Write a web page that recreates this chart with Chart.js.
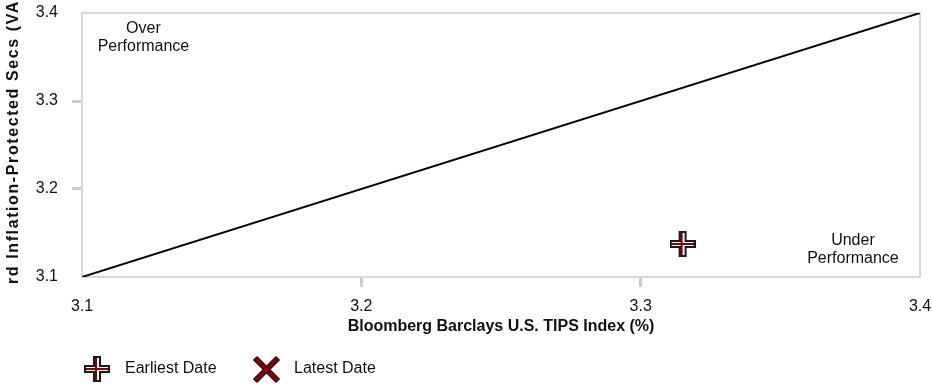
<!DOCTYPE html>
<html>
<head>
<meta charset="utf-8">
<script src="https://cdn.jsdelivr.net/npm/chart.js@4/dist/chart.umd.min.js"></script>
<style>
  html, body { margin: 0; padding: 0; background: #fff; }
  #wrap { width: 932px; height: 387px; position: relative; }
</style>
</head>
<body>
<div id="wrap"><canvas id="chart"></canvas></div>
<script>
// axis ticks (%)
const xTicks = [3.1, 3.2, 3.3, 3.4];
const yTicks = [3.1, 3.2, 3.3, 3.4];

// 45-degree reference line
const refLineX = [3.1, 3.4];
const refLineY = [3.1, 3.4];

// fund vs index return points
const earliestX = [3.315];
const earliestY = [3.1375];
const latestX = [];
const latestY = [];

const xTitle = 'Bloomberg Barclays U.S. TIPS Index (%)';
const yTitle = 'rd Inflation-Protected Secs (VA';

const legendLabels = ['Earliest Date', 'Latest Date'];

// quadrant labels, anchored in data units
const quadLabels = [
  { lines: ['Over', 'Performance'], x: 3.122, y: 3.382 },
  { lines: ['Under', 'Performance'], x: 3.376, y: 3.141 },
];

const FONT = 'Liberation Sans, Arial, Helvetica, sans-serif';
const TEXT = '#111';
const RED = '#8b0000';

const toPts = (xs, ys) => xs.map((x, i) => ({ x, y: ys[i] }));

function makePlus(size) {
  const c = document.createElement('canvas');
  c.width = size; c.height = size;
  const g = c.getContext('2d');
  const m = size / 2, h = 3;
  g.beginPath();
  g.moveTo(m - h, 1); g.lineTo(m + h, 1); g.lineTo(m + h, m - h);
  g.lineTo(size - 1, m - h); g.lineTo(size - 1, m + h); g.lineTo(m + h, m + h);
  g.lineTo(m + h, size - 1); g.lineTo(m - h, size - 1); g.lineTo(m - h, m + h);
  g.lineTo(1, m + h); g.lineTo(1, m - h); g.lineTo(m - h, m - h);
  g.closePath();
  g.fillStyle = '#fff';
  g.fill();
  g.lineWidth = 2;
  g.strokeStyle = '#1a1a1a';
  g.stroke();
  g.strokeStyle = RED;
  g.lineWidth = 2;
  g.beginPath();
  g.moveTo(m - 1, 2); g.lineTo(m - 1, size - 2);
  g.moveTo(2, m); g.lineTo(size - 2, m);
  g.stroke();
  return c;
}

function makeX(size) {
  const c = document.createElement('canvas');
  c.width = size; c.height = size;
  const g = c.getContext('2d');
  const p = 3;
  const path = () => {
    g.beginPath();
    g.moveTo(p, p); g.lineTo(size - p, size - p);
    g.moveTo(size - p, p); g.lineTo(p, size - p);
  };
  g.lineCap = 'butt';
  path(); g.strokeStyle = '#111'; g.lineWidth = 6; g.stroke();
  path(); g.strokeStyle = RED; g.lineWidth = 3.5; g.stroke();
  return c;
}

const plusIcon = makePlus(26);
const xIcon = makeX(29);

// light grey frame around the plot area
const framePlugin = {
  id: 'frame',
  beforeDatasetsDraw(chart) {
    const { ctx, chartArea: a } = chart;
    ctx.save();
    ctx.strokeStyle = '#d9d9d9';
    ctx.lineWidth = 2;
    ctx.strokeRect(a.left, a.top, a.right - a.left, a.bottom - a.top);
    ctx.restore();
  },
};

// y title, letter-spaced like the original
const yTitlePlugin = {
  id: 'yTitle',
  afterDraw(chart) {
    const { ctx, chartArea: a } = chart;
    ctx.save();
    ctx.translate(14, (a.top + a.bottom) / 2 - 3);
    ctx.rotate(-Math.PI / 2);
    ctx.font = 'bold 16px ' + FONT;
    ctx.letterSpacing = '1.6px';
    ctx.fillStyle = TEXT;
    ctx.textAlign = 'center';
    ctx.textBaseline = 'middle';
    ctx.fillText(yTitle, 0, 0);
    ctx.restore();
  },
};

// quadrant annotations
const quadPlugin = {
  id: 'quad',
  afterDatasetsDraw(chart) {
    const { ctx, scales: { x, y } } = chart;
    ctx.save();
    ctx.font = '16px ' + FONT;
    ctx.fillStyle = TEXT;
    ctx.textAlign = 'center';
    ctx.textBaseline = 'middle';
    quadLabels.forEach(q => {
      const px = x.getPixelForValue(q.x);
      const py = y.getPixelForValue(q.y);
      q.lines.forEach((t, i) => ctx.fillText(t, px, py + i * 18));
    });
    ctx.restore();
  },
};

// legend below the axis title
const legendPlugin = {
  id: 'bottomLegend',
  afterDraw(chart) {
    const { ctx } = chart;
    const icons = [plusIcon, xIcon];
    const iconX = [97, 266.5];
    const textX = [125, 294];
    const cy = 369;
    ctx.save();
    ctx.font = '16px ' + FONT;
    ctx.fillStyle = TEXT;
    ctx.textBaseline = 'middle';
    legendLabels.forEach((t, i) => {
      const ic = icons[i];
      ctx.drawImage(ic, Math.round(iconX[i] - ic.width / 2), Math.round(cy - ic.height / 2));
      ctx.fillText(t, textX[i], cy);
    });
    ctx.restore();
  },
};

const tickColor = ctx => (ctx.index === 0 || ctx.index === 3) ? 'rgba(0,0,0,0)' : '#c8cdd2';

new Chart(document.getElementById('chart'), {
  type: 'scatter',
  data: {
    datasets: [
      {
        type: 'line',
        label: 'ref',
        data: toPts(refLineX, refLineY),
        borderColor: '#000',
        borderWidth: 2,
        pointRadius: 0,
        fill: false,
      },
      {
        label: legendLabels[0],
        data: toPts(earliestX, earliestY),
        pointStyle: plusIcon,
      },
      {
        label: legendLabels[1],
        data: toPts(latestX, latestY),
        pointStyle: xIcon,
      },
    ],
  },
  options: {
    responsive: true,
    maintainAspectRatio: false,
    animation: false,
    layout: { padding: { left: 0, right: 12, top: 13, bottom: 50 } },
    plugins: {
      legend: { display: false },
      tooltip: { enabled: false },
    },
    scales: {
      x: {
        type: 'linear',
        min: 3.1,
        max: 3.4,
        afterBuildTicks: axis => { axis.ticks = xTicks.map(v => ({ value: v })); },
        afterFit: s => { s.height = 60; s.paddingLeft = 0; s.paddingRight = 0; },
        ticks: {
          color: TEXT,
          font: { family: FONT, size: 16 },
          padding: 10,
          callback: v => v.toFixed(1),
          maxRotation: 0,
        },
        grid: { drawOnChartArea: false, tickLength: 10, tickWidth: 3, tickColor },
        border: { display: false },
        title: {
          display: true,
          text: xTitle,
          color: TEXT,
          font: { family: FONT, size: 16, weight: 'bold' },
          padding: { top: 0, bottom: 1 },
        },
      },
      y: {
        type: 'linear',
        min: 3.1,
        max: 3.4,
        afterBuildTicks: axis => { axis.ticks = yTicks.map(v => ({ value: v })); },
        afterFit: s => { s.width = 82; s.paddingTop = 0; s.paddingBottom = 0; },
        ticks: {
          color: TEXT,
          font: { family: FONT, size: 16 },
          padding: 14,
          callback: v => v.toFixed(1),
        },
        grid: { drawOnChartArea: false, tickLength: 10, tickWidth: 3, tickColor },
        border: { display: false },
        title: { display: false },
      },
    },
  },
  plugins: [framePlugin, yTitlePlugin, quadPlugin, legendPlugin],
});
</script>
</body>
</html>
